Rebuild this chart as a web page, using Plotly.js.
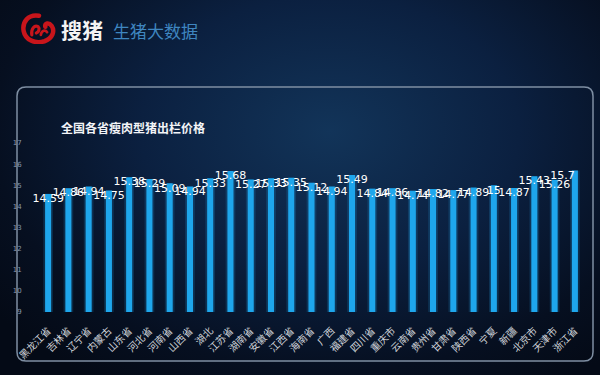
<!DOCTYPE html>
<html>
<head>
<meta charset="utf-8">
<script src="https://cdn.plot.ly/plotly-3.0.1.min.js"></script>
<style>
html,body{margin:0;padding:0;width:600px;height:375px;overflow:hidden;
background: radial-gradient(ellipse 70% 80% at 55% 35%, #123459 0%, #0b2040 45%, #060f20 80%, #040a16 100%);}
#chart{width:600px;height:375px;}
</style>
</head>
<body>
<div id="chart"></div>
<script>
var provinces = ["黑龙江省","吉林省","辽宁省","内蒙古","山东省","河北省","河南省","山西省","湖北","江苏省","湖南省","安徽省","江西省","海南省","广西","福建省","四川省","重庆市","云南省","贵州省","甘肃省","陕西省","宁夏","新疆","北京市","天津市","浙江省"];
var prices = [14.59,14.86,14.94,14.75,15.38,15.29,15.09,14.94,15.33,15.68,15.27,15.33,15.35,15.12,14.94,15.49,14.84,14.86,14.74,14.82,14.77,14.89,15,14.87,15.43,15.26,15.7];
var yTicks = [9,10,11,12,13,14,15,16,17];
var chartTitle = "全国各省瘦肉型猪出栏价格";
var brandName = "搜猪";
var brandSub = "生猪大数据";

// layout geometry (pixels)
var L = 38, R = 15, T = 143, B = 63, W = 600, H = 375;
var PW = W - L - R, PH = H - T - B;
function px(x){ return (x - L) / PW; }
function py(y){ return (H - B - y) / PH; }
function roundRect(x0,y0,x1,y1,r){
  var rx = r / PW, ry = r / PH;
  var a = px(x0), b = px(x1), top = py(y0), bot = py(y1);
  return "M" + (a+rx) + "," + top +
    " L" + (b-rx) + "," + top +
    " Q" + b + "," + top + " " + b + "," + (top-ry) +
    " L" + b + "," + (bot+ry) +
    " Q" + b + "," + bot + " " + (b-rx) + "," + bot +
    " L" + (a+rx) + "," + bot +
    " Q" + a + "," + bot + " " + a + "," + (bot+ry) +
    " L" + a + "," + (top-ry) +
    " Q" + a + "," + top + " " + (a+rx) + "," + top + " Z";
}

var labelPos = prices.map(function(v,i){ return i === prices.length-1 ? "bottom left" : "bottom center"; });
var heights = prices.map(function(v){ return v - 9; });

var glow = {
  type: "bar", x: provinces, y: heights, base: 9,
  width: 0.48, marker: {color: "rgba(40,170,245,0.18)", line: {width: 0}},
  hoverinfo: "skip", showlegend: false
};
var bars = {
  type: "bar", x: provinces, y: heights, base: 9,
  width: 0.3, marker: {color: "#1ea6ec", line: {width: 0}},
  showlegend: false
};

var labels = {
  type: "scatter", mode: "text", x: provinces, y: prices,
  text: prices.map(String), textposition: labelPos,
  textfont: {color: "#ffffff", size: 11, family: "DejaVu Sans"},
  hoverinfo: "skip", showlegend: false, cliponaxis: false
};

var logoSvg = '<svg xmlns="http://www.w3.org/2000/svg" width="40" height="34" viewBox="0 0 40 34">' +
 '<path d="M20 3 C8 1 1 10 3 20 C5 30 16 34 26 31 C35 28 38 20 34 14 C31 10 26 11 27 15" fill="none" stroke="#c8151b" stroke-width="5" stroke-linecap="round"/>' +
 '<path d="M12 24 C11 17 15 13 19 15 C21 17 20 21 17 22" fill="none" stroke="#c8151b" stroke-width="3.5" stroke-linecap="round"/>' +
 '<path d="M22 24 C23 19 27 18 29 21" fill="none" stroke="#c8151b" stroke-width="3" stroke-linecap="round"/>' +
 '</svg>';

var layout = {
  width: W, height: H,
  margin: {l: L, r: R, t: T, b: B, pad: 0},
  paper_bgcolor: "rgba(0,0,0,0)", plot_bgcolor: "rgba(0,0,0,0)",
  barmode: "overlay",
  xaxis: {
    type: "category", range: [-0.5, provinces.length - 0.5], autorange: false,
    tickangle: -45, showgrid: false, zeroline: false, showline: false,
    ticks: "outside", ticklen: 8, tickcolor: "rgba(0,0,0,0)",
    tickfont: {color: "#d0d4da", size: 10, family: "Noto Sans CJK SC"},
    fixedrange: true
  },
  yaxis: {
    range: [9, 17], autorange: false, tickvals: yTicks, showgrid: false, zeroline: false, showline: false,
    ticks: "outside", ticklen: 14, tickcolor: "rgba(0,0,0,0)",
    tickfont: {color: "#8797ab", size: 7, family: "DejaVu Sans"},
    fixedrange: true
  },
  shapes: [{
    type: "path", xref: "paper", yref: "paper", layer: "below",
    path: roundRect(17, 87, 593, 361, 9),
    line: {color: "#7f8fa3", width: 1.5}, fillcolor: "rgba(0,0,0,0)"
  }],
  images: [{
    source: "data:image/svg+xml;base64," + btoa(logoSvg),
    xref: "paper", yref: "paper", x: px(21), y: py(13), sizex: 36 / PW, sizey: 31 / PH,
    xanchor: "left", yanchor: "top", sizing: "stretch", layer: "above"
  }],
  annotations: [
    {text: "<b>" + chartTitle + "</b>", xref: "paper", yref: "paper", x: px(59), y: py(127),
     xanchor: "left", yanchor: "middle", showarrow: false,
     font: {color: "#f2f4f7", size: 12, family: "Noto Sans CJK SC"}},
    {text: "<b>" + brandName + "</b>", xref: "paper", yref: "paper", x: px(59), y: py(29),
     xanchor: "left", yanchor: "middle", showarrow: false,
     font: {color: "#f4f4f4", size: 21, family: "Noto Sans CJK SC"}},
    {text: brandSub, xref: "paper", yref: "paper", x: px(111), y: py(31),
     xanchor: "left", yanchor: "middle", showarrow: false,
     font: {color: "#3f86c0", size: 17, family: "Noto Sans CJK SC"}}
  ]
};

Plotly.newPlot("chart", [glow, bars, labels], layout, {displayModeBar: false, staticPlot: true});
</script>
</body>
</html>
